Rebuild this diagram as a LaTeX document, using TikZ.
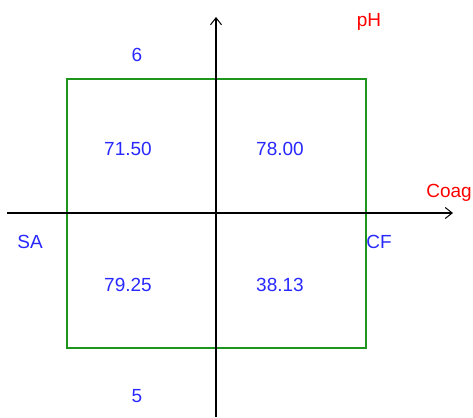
\documentclass[tikz,border=0pt]{standalone}
\usepackage{fontspec}
\setmainfont{Liberation Sans}
\usetikzlibrary{arrows.meta}
\definecolor{boxgreen}{RGB}{30,150,30}
\definecolor{lblblue}{RGB}{40,40,255}
\definecolor{lblred}{RGB}{255,0,0}
\tikzset{
  axis/.style={line width=1.5pt, black, -{Straight Barb[length=7pt,width=11pt,line width=1pt]}},
  cube/.style={line width=1.6pt, boxgreen},
  val/.style={anchor=base, inner sep=0pt, text=lblblue, font=\fontsize{19}{19}\selectfont},
  axlbl/.style={anchor=base, inner sep=0pt, text=lblred, font=\fontsize{19}{19}\selectfont}
}
\begin{document}
\begin{tikzpicture}[x=1pt,y=-1pt]
\useasboundingbox (0,0) rectangle (473,417);
\coordinate (xs) at (7,213);
\coordinate (xe) at (453,213);
\coordinate (ys) at (216,417);
\coordinate (ye) at (216,17);
\coordinate (bl) at (67,348);
\coordinate (tr) at (366,79);
\draw[cube] (bl) rectangle (tr);
\draw[axis] (xs) -- (xe);
\draw[axis] (ys) -- (ye);
\node[axlbl] (ph) at (369,27) {pH};
\node[axlbl] (coag) at (449,197) {Coag};
\node[val] (six) at (137,62) {6};
\node[val] (five) at (137,402) {5};
\node[val] (a) at (128,155) {71.50};
\node[val] (b) at (280,155) {78.00};
\node[val] (c) at (128,291) {79.25};
\node[val] (d) at (280,291) {38.13};
\node[val] (sa) at (30,248) {SA};
\node[val] (cf) at (379,248) {CF};
\end{tikzpicture}
\end{document}
